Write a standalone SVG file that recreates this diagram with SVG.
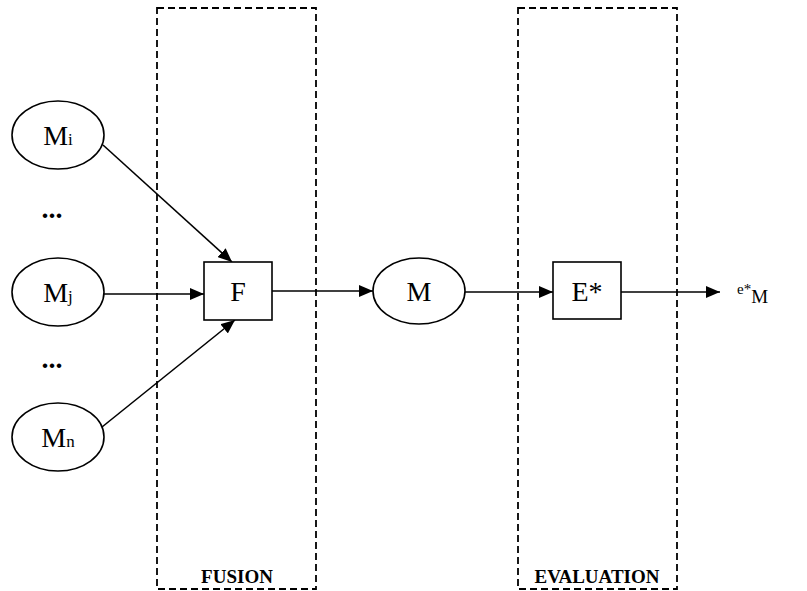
<svg xmlns="http://www.w3.org/2000/svg" width="807" height="591" viewBox="0 0 807 591">
  <style>
    .stage { fill: none; stroke: #000; stroke-width: 1.8; stroke-dasharray: 7 4; }
    .node { fill: #fff; stroke: #000; stroke-width: 1.6; }
    .lbl { font-family: "Liberation Serif", "Times New Roman", serif; font-size: 28px; fill: #000; }
    .sub { font-size: 17px; }
    .dots { font-family: "Liberation Serif", "Times New Roman", serif; font-size: 28px; font-weight: bold; fill: #000; }
    .stagelbl { font-family: "Liberation Serif", "Times New Roman", serif; font-size: 19px; font-weight: bold; fill: #000; }
    .edge { stroke: #000; stroke-width: 1.6; fill: none; marker-end: url(#arrow); }
  </style>
  <defs>
    <marker id="arrow" viewBox="0 0 14 12" refX="14" refY="6" markerWidth="14" markerHeight="12" markerUnits="userSpaceOnUse" orient="auto">
      <path d="M0,0 L14,6 L0,12 z" fill="#000"/>
    </marker>
  </defs>
  <rect width="807" height="591" fill="#fff"/>

  <!-- stage frames -->
  <g id="fusion-stage">
    <rect class="stage" x="157" y="8" width="159" height="581"/>
    <text class="stagelbl" x="237" y="583" text-anchor="middle">FUSION</text>
  </g>
  <g id="evaluation-stage">
    <rect class="stage" x="518" y="8" width="159" height="581"/>
    <text class="stagelbl" x="597" y="583" text-anchor="middle">EVALUATION</text>
  </g>

  <!-- connectors -->
  <g id="connectors">
    <line class="edge" x1="103" y1="145" x2="232" y2="262"/>
    <line class="edge" x1="104" y1="294" x2="204" y2="294"/>
    <line class="edge" x1="102" y1="427" x2="235" y2="320"/>
    <line class="edge" x1="272" y1="291" x2="373" y2="291"/>
    <line class="edge" x1="464" y1="292" x2="553" y2="292"/>
    <line class="edge" x1="621" y1="292" x2="720" y2="292"/>
  </g>

  <!-- input models -->
  <g id="node-mi">
    <ellipse class="node" cx="58" cy="135" rx="46" ry="34"/>
    <text class="lbl" x="58" y="145" text-anchor="middle">M<tspan class="sub">i</tspan></text>
  </g>
  <g id="dots-1">
    <text class="dots" x="52" y="218" text-anchor="middle">...</text>
  </g>
  <g id="node-mj">
    <ellipse class="node" cx="58" cy="292" rx="46" ry="34"/>
    <text class="lbl" x="58" y="302" text-anchor="middle">M<tspan class="sub">j</tspan></text>
  </g>
  <g id="dots-2">
    <text class="dots" x="52" y="368" text-anchor="middle">...</text>
  </g>
  <g id="node-mn">
    <ellipse class="node" cx="58" cy="437" rx="46" ry="34"/>
    <text class="lbl" x="58" y="447" text-anchor="middle">M<tspan class="sub">n</tspan></text>
  </g>

  <!-- fusion operator -->
  <g id="node-f">
    <rect class="node" x="204" y="262" width="68" height="58"/>
    <text class="lbl" x="238" y="301" text-anchor="middle">F</text>
  </g>

  <!-- fused model -->
  <g id="node-m">
    <ellipse class="node" cx="419" cy="291" rx="46" ry="33"/>
    <text class="lbl" x="419" y="301" text-anchor="middle">M</text>
  </g>

  <!-- evaluation operator -->
  <g id="node-e">
    <rect class="node" x="553" y="262" width="68" height="57"/>
    <text class="lbl" x="587" y="301" text-anchor="middle">E*</text>
  </g>

  <!-- result -->
  <g id="node-result">
    <text class="lbl" x="737" y="294" style="font-size:15px">e*<tspan dy="9" style="font-size:19px">M</tspan></text>
  </g>
</svg>
